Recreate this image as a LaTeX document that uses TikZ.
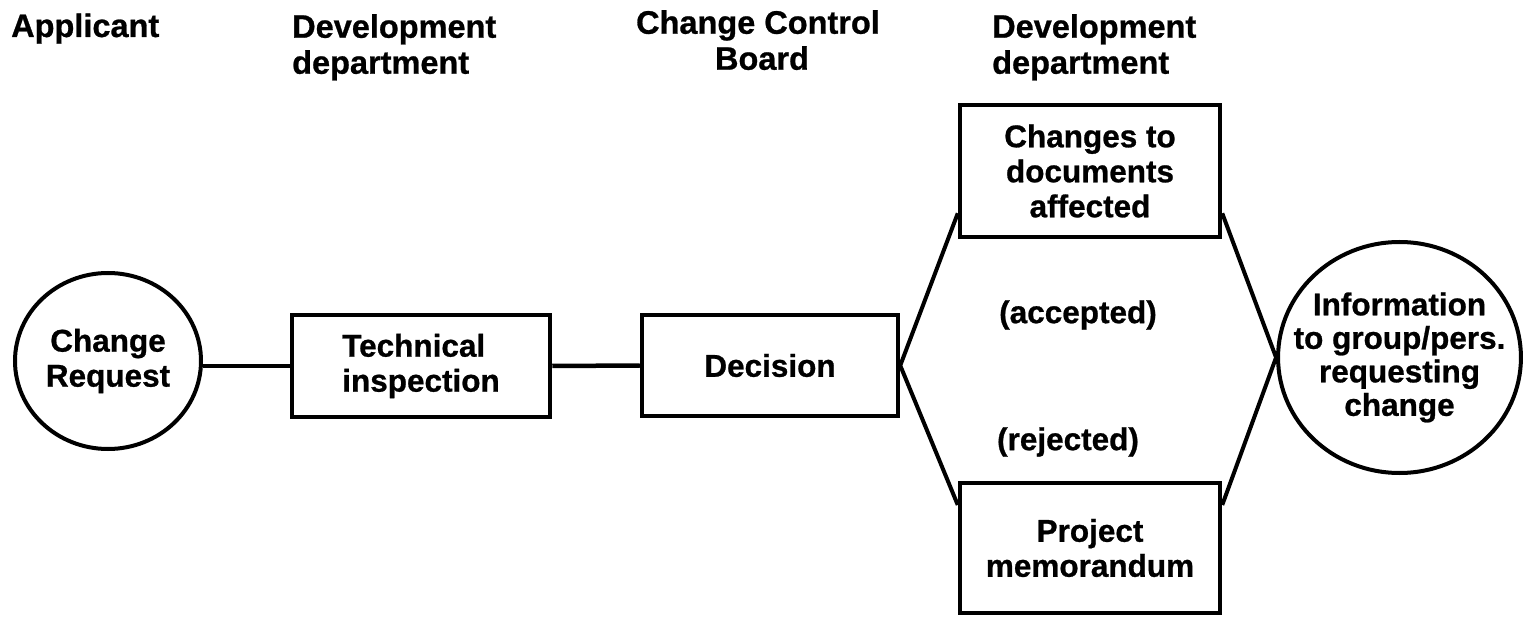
\documentclass[tikz,border=0pt]{standalone}
\usepackage{fontspec}
\setmainfont{Liberation Sans}
\newfontfamily\diafont{Liberation Sans Bold}[FakeBold=0.8]
\usetikzlibrary{shapes.geometric,calc}
\begin{document}
\begin{tikzpicture}[x=1pt,y=-1pt,
  every node/.style={inner sep=0pt, font=\diafont\fontsize{31.5}{35}\selectfont},
  header/.style={font=\diafont\fontsize{32.5}{36}\selectfont, align=left},
  stepbox/.style={draw, line width=4.5pt, rectangle, align=center},
  bubble/.style={draw, line width=4pt, ellipse, align=center},
  link/.style={line width=4.5pt},
  branch/.style={line width=4pt}
]
\useasboundingbox (0,0) rectangle (1523,617);

% column headings
\node[header, anchor=base west] (hApp) at (11,37) {Applicant};
\node[header, anchor=north west] (hDevA) at (292,14) {Development\\department};
\node[header, anchor=north, align=center] (hCCB) at (758,10) {Change Control\\\hspace*{8pt}Board};
\node[header, anchor=north west] (hDevB) at (992,14) {Development\\department};

% process steps
\node[bubble, minimum width=186, minimum height=176] (req) at (108,361) {Change\\Request};
\node[stepbox, align=left, minimum width=258, minimum height=102] (tech) at (421,366) {Technical\\inspection};
\node[stepbox, minimum width=256, minimum height=101] (dec) at (770,365.5) {Decision};
\node[stepbox, minimum width=260, minimum height=132] (chg) at (1090,171) {Changes to\\documents\\affected};
\node[stepbox, minimum width=260, minimum height=130] (prj) at (1090,548) {Project\\memorandum};
\node[bubble, inner xsep=-20pt, minimum width=242, minimum height=231,
      font=\diafont\fontsize{31.5}{33.5}\selectfont] (info) at (1399.5,357.5)
      {Information\\to group/pers.\\requesting\\change};

% branch labels
\node (acc) at (1078,315) {(accepted)};
\node (rej) at (1068,442) {(rejected)};

% connectors
\draw[link] (tech.west) -- (tech.west -| req.east);
\draw[link] (tech.east) -- (dec.west);
\coordinate (chgIn)  at ($(chg.south west)!0.19!(chg.north west)$);
\coordinate (chgOut) at ($(chg.south east)!0.19!(chg.north east)$);
\coordinate (prjIn)  at ($(prj.north west)!0.18!(prj.south west)$);
\coordinate (prjOut) at ($(prj.north east)!0.18!(prj.south east)$);
\draw[branch] (chgIn) -- (dec.east) -- (prjIn);
\draw[branch] (chgOut) -- (info.west) -- (prjOut);
\end{tikzpicture}
\end{document}
